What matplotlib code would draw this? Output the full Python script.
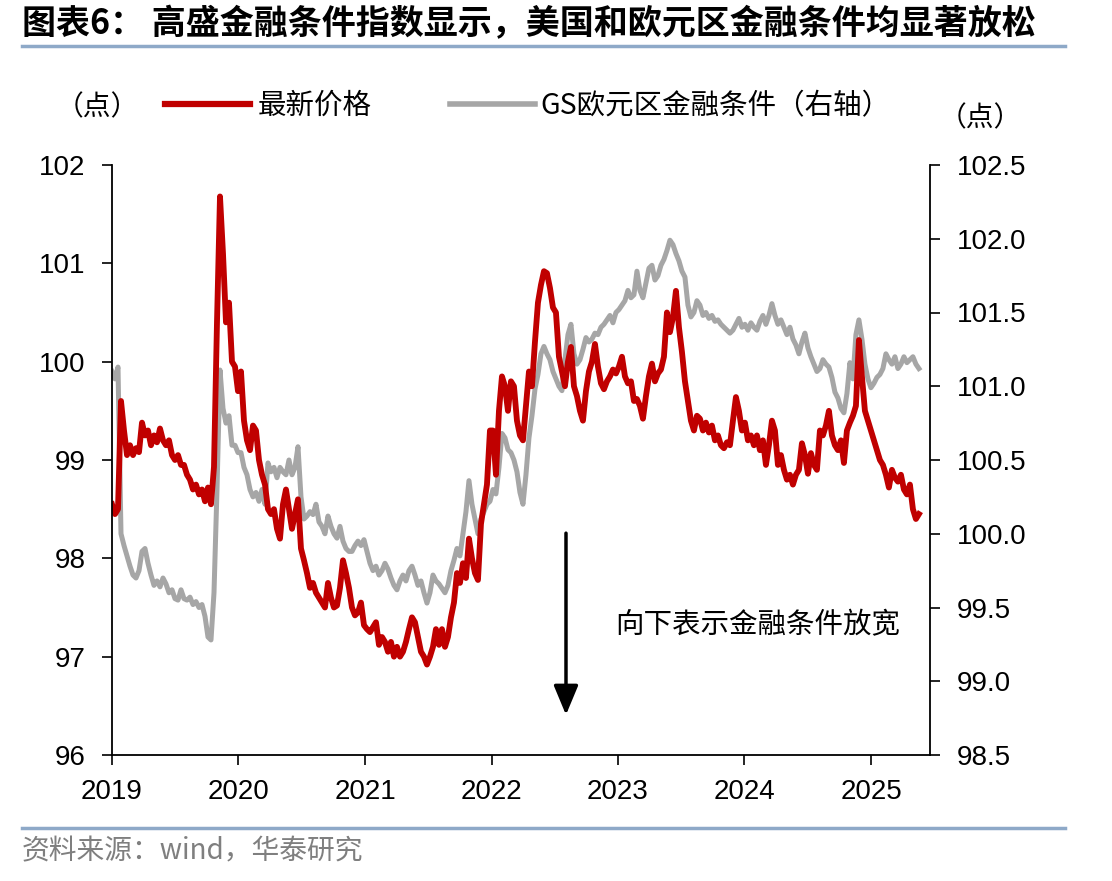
import matplotlib
matplotlib.use('Agg')
import matplotlib.pyplot as plt
import matplotlib.dates as mdates
from matplotlib.lines import Line2D
from matplotlib.ticker import FormatStrFormatter
import pandas as pd

plt.rcParams['font.family'] = ['Noto Sans CJK SC', 'DejaVu Sans']

# ---------------- data ----------------
dates = pd.date_range('2019-01-01', '2025-05-19', periods=270)

us_fci = [98.55, 98.45, 98.50, 99.60, 99.30, 99.05, 99.15, 99.05, 99.12, 99.08,
          99.38, 99.25, 99.30, 99.15, 99.25, 99.18, 99.32, 99.20, 99.15, 99.20,
          99.05, 99.00, 99.05, 98.95, 98.95, 98.85, 98.80, 98.70, 98.75, 98.65,
          98.70, 98.58, 98.72, 98.55, 98.93, 100.40, 101.68, 101.10, 100.40, 100.60,
          100.00, 99.95, 99.70, 99.90, 99.40, 99.20, 99.10, 99.35, 99.30, 99.00,
          98.85, 98.75, 98.50, 98.45, 98.50, 98.30, 98.20, 98.55, 98.70, 98.50,
          98.30, 98.45, 98.60, 98.10, 97.98, 97.85, 97.70, 97.75, 97.65, 97.60,
          97.55, 97.50, 97.75, 97.60, 97.50, 97.52, 97.70, 97.98, 97.85, 97.70,
          97.50, 97.42, 97.45, 97.55, 97.32, 97.28, 97.25, 97.30, 97.35, 97.12,
          97.20, 97.15, 97.05, 97.15, 97.00, 97.10, 97.00, 97.05, 97.15, 97.28,
          97.40, 97.35, 97.20, 97.05, 97.00, 96.92, 97.00, 97.10, 97.28, 97.12,
          97.28, 97.10, 97.20, 97.40, 97.55, 97.85, 97.75, 97.95, 97.80, 98.20,
          98.00, 97.85, 97.78, 98.35, 98.55, 98.75, 99.30, 99.30, 98.85, 99.50,
          99.85, 99.75, 99.50, 99.80, 99.75, 99.40, 99.25, 99.20, 99.55, 99.90,
          99.75, 100.20, 100.60, 100.78, 100.92, 100.90, 100.75, 100.55, 100.50, 100.05,
          99.90, 99.75, 100.00, 100.15, 99.75, 99.65, 99.50, 99.40, 99.70, 99.90,
          100.00, 100.18, 99.95, 99.78, 99.72, 99.80, 99.85, 99.92, 99.88, 99.95,
          100.05, 99.85, 99.78, 99.80, 99.60, 99.62, 99.55, 99.42, 99.65, 99.85,
          99.98, 99.80, 99.88, 99.92, 100.05, 100.50, 100.30, 100.45, 100.72, 100.35,
          100.10, 99.80, 99.60, 99.40, 99.30, 99.45, 99.42, 99.30, 99.38, 99.28,
          99.35, 99.20, 99.25, 99.15, 99.12, 99.18, 99.15, 99.40, 99.64, 99.50,
          99.30, 99.38, 99.20, 99.25, 99.15, 99.25, 99.10, 99.20, 98.95, 99.15,
          99.40, 99.30, 98.95, 99.05, 98.90, 98.80, 98.85, 98.75, 98.85, 98.90,
          99.17, 99.05, 98.86, 99.07, 98.95, 98.90, 99.30, 99.25, 99.35, 99.50,
          99.25, 99.15, 99.10, 99.20, 98.97, 99.30, 99.38, 99.45, 99.55, 100.22,
          99.85, 99.50, 99.40, 99.30, 99.20, 99.10, 99.00, 98.95, 98.85, 98.72,
          98.90, 98.82, 98.78, 98.85, 98.70, 98.65, 98.75, 98.50, 98.40, 98.45]

eu_fci = [101.10, 101.05, 101.13, 100.00, 99.92, 99.85, 99.78, 99.72, 99.70, 99.75,
          99.88, 99.90, 99.80, 99.72, 99.65, 99.68, 99.64, 99.70, 99.66, 99.60,
          99.62, 99.56, 99.55, 99.62, 99.56, 99.55, 99.57, 99.52, 99.54, 99.50,
          99.52, 99.44, 99.30, 99.28, 99.60, 100.30, 101.11, 100.85, 100.75, 100.80,
          100.60, 100.60, 100.55, 100.55, 100.45, 100.40, 100.30, 100.25, 100.28, 100.22,
          100.30, 100.20, 100.48, 100.42, 100.45, 100.38, 100.45, 100.42, 100.40, 100.50,
          100.40, 100.45, 100.59, 100.25, 100.10, 100.12, 100.15, 100.13, 100.20, 100.08,
          100.05, 100.00, 100.12, 100.05, 100.00, 99.97, 100.05, 99.95, 99.90, 99.88,
          99.88, 99.92, 99.95, 99.92, 99.96, 99.88, 99.80, 99.75, 99.78, 99.72,
          99.75, 99.80, 99.76, 99.70, 99.65, 99.62, 99.68, 99.72, 99.68, 99.75,
          99.78, 99.72, 99.65, 99.68, 99.60, 99.53, 99.60, 99.72, 99.68, 99.66,
          99.63, 99.60, 99.65, 99.75, 99.82, 99.90, 99.85, 100.00, 100.15, 100.36,
          100.20, 100.10, 100.00, 100.10, 100.15, 100.20, 100.22, 100.30, 100.27, 100.45,
          100.68, 100.65, 100.57, 100.55, 100.50, 100.42, 100.28, 100.20, 100.40, 100.65,
          100.80, 100.98, 101.08, 101.22, 101.27, 101.22, 101.18, 101.10, 101.05, 101.00,
          100.97, 101.18, 101.35, 101.42, 101.22, 101.15, 101.18, 101.25, 101.33, 101.30,
          101.32, 101.36, 101.35, 101.40, 101.42, 101.45, 101.48, 101.43, 101.50, 101.52,
          101.55, 101.58, 101.65, 101.60, 101.62, 101.78, 101.65, 101.60, 101.70, 101.80,
          101.82, 101.72, 101.75, 101.82, 101.86, 101.92, 101.99, 101.96, 101.90, 101.85,
          101.78, 101.74, 101.55, 101.47, 101.50, 101.58, 101.55, 101.48, 101.50, 101.46,
          101.48, 101.44, 101.45, 101.42, 101.40, 101.38, 101.36, 101.38, 101.42, 101.46,
          101.40, 101.42, 101.38, 101.43, 101.40, 101.38, 101.44, 101.48, 101.42, 101.48,
          101.56, 101.48, 101.42, 101.45, 101.40, 101.35, 101.40, 101.32, 101.28, 101.22,
          101.30, 101.36, 101.26, 101.20, 101.15, 101.10, 101.12, 101.18, 101.15, 101.13,
          101.06, 100.96, 100.92, 100.85, 100.82, 100.95, 101.16, 101.05, 101.35, 101.45,
          101.32, 101.15, 101.05, 100.99, 101.02, 101.06, 101.08, 101.12, 101.22, 101.18,
          101.15, 101.20, 101.12, 101.15, 101.20, 101.16, 101.18, 101.20, 101.15, 101.12]

left_ticks = [96, 97, 98, 99, 100, 101, 102]
right_ticks = [98.5, 99.0, 99.5, 100.0, 100.5, 101.0, 101.5, 102.0, 102.5]

title = '图表6： 高盛金融条件指数显示，美国和欧元区金融条件均显著放松'
us_label = '最新价格'
eu_label = 'GS欧元区金融条件（右轴）'
unit_label = '（点）'
note = '向下表示金融条件放宽'
source = '资料来源：wind，华泰研究'

RED = '#C00000'
GRAY = '#A6A6A6'
RULE = '#8EA9C8'
NUM_FONT = ['Liberation Sans', 'DejaVu Sans']

# ---------------- figure ----------------
fig = plt.figure(figsize=(11.12, 8.81), dpi=100)
ax = fig.add_axes([112/1112, 1-755/881, (930-112)/1112, (755-165)/881])
ax2 = ax.twinx()

ax2.plot(dates, eu_fci, color=GRAY, lw=3.6, solid_joinstyle='round')
ax.plot(dates, us_fci, color=RED, lw=4.2, solid_joinstyle='round')
ax.set_zorder(ax2.get_zorder() + 1)
ax.patch.set_visible(False)

ax.set_ylim(96, 102)
ax2.set_ylim(98.5, 102.5)
ax.set_yticks(left_ticks)
ax2.set_yticks(right_ticks)
ax2.yaxis.set_major_formatter(FormatStrFormatter('%.1f'))
ax.set_xlim(pd.Timestamp('2019-01-01'), pd.Timestamp('2025-06-20'))
ax.xaxis.set_major_locator(mdates.YearLocator())
ax.xaxis.set_major_formatter(mdates.DateFormatter('%Y'))

for a in (ax, ax2):
    a.spines['top'].set_visible(False)
    for s in a.spines.values():
        s.set_linewidth(1.3)
ax.spines['right'].set_visible(False)
ax2.spines['left'].set_visible(False)
ax2.spines['bottom'].set_visible(False)

ax.tick_params(axis='both', which='major', direction='out', length=7, width=1.2,
               labelsize=20)
ax.tick_params(axis='y', pad=12)
ax.tick_params(axis='x', pad=10)
ax2.tick_params(axis='y', direction='out', length=7, width=1.2, labelsize=20, pad=12)
for lab in ax.get_xticklabels() + ax.get_yticklabels() + ax2.get_yticklabels():
    lab.set_family(NUM_FONT)

# arrow and note
ax.annotate('', xy=(0.555, 0.068), xytext=(0.555, 0.376), xycoords='axes fraction',
            arrowprops=dict(arrowstyle='-|>,head_length=0.6,head_width=0.25',
                            color='black', lw=2.5, mutation_scale=30,
                            shrinkA=0, shrinkB=0))
ax.text(0.789, 0.22, note, transform=ax.transAxes, ha='center', va='center',
        fontsize=20.5)

# title & rules
fig.text(22/1112, 1-24/881, title, ha='left', va='center', fontsize=24.5,
         fontweight='bold')
fig.add_artist(Line2D([22/1112, 1065/1112], [1-46/881]*2, color=RULE, lw=2.5))
fig.add_artist(Line2D([22/1112, 1065/1112], [1-828/881]*2, color=RULE, lw=2.5))
fig.text(22/1112, 1-851/881, source, ha='left', va='center', fontsize=20,
         color='#7F7F7F')

# legend (manual)
fig.text(97/1112, 1-107/881, unit_label, ha='center', va='center', fontsize=20)
fig.add_artist(Line2D([165/1112, 250/1112], [1-104/881]*2, color=RED, lw=4.5))
fig.text(258/1112, 1-106/881, us_label, ha='left', va='center', fontsize=20.5)
fig.add_artist(Line2D([450/1112, 535/1112], [1-104/881]*2, color=GRAY, lw=4.0))
fig.text(540/1112, 1-106/881, eu_label, ha='left', va='center', fontsize=20.5)
fig.text(980/1112, 1-118/881, unit_label, ha='center', va='center', fontsize=20)

fig.savefig('out.png', dpi=100)
